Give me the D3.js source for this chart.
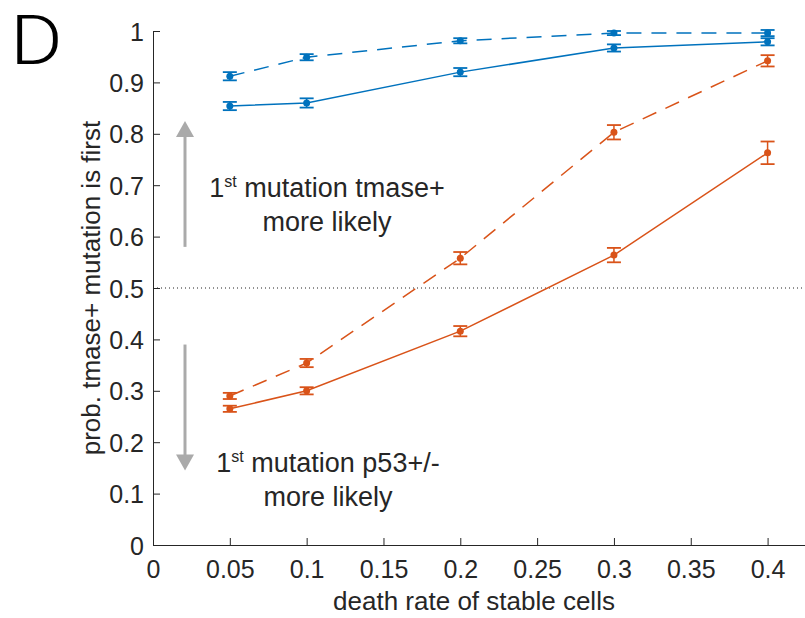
<!DOCTYPE html>
<html>
<head>
<meta charset="utf-8">
<script src="https://cdn.jsdelivr.net/npm/d3@7"></script>
<style>
  body { margin: 0; background: #fff; }
  svg text { font-family: "Liberation Sans", Arial, sans-serif; fill: #262626; }
</style>
</head>
<body>
<svg id="chart" width="805" height="618"></svg>
<script>
// datos
var deathRates = [0.05, 0.1, 0.2, 0.3, 0.4];
var xTicks = [0, 0.05, 0.1, 0.15, 0.2, 0.25, 0.3, 0.35, 0.4];
var yTicks = [0, 0.1, 0.2, 0.3, 0.4, 0.5, 0.6, 0.7, 0.8, 0.9, 1];

var blueDashed = [0.912, 0.949, 0.981, 0.996, 0.996];
var blueDashedErr = [0.008, 0.006, 0.005, 0.004, 0.006];
var blueSolid = [0.854, 0.860, 0.920, 0.967, 0.979];
var blueSolidErr = [0.008, 0.009, 0.008, 0.007, 0.007];
var orangeDashed = [0.290, 0.354, 0.558, 0.803, 0.942];
var orangeDashedErr = [0.006, 0.008, 0.012, 0.014, 0.011];
var orangeSolid = [0.265, 0.300, 0.416, 0.564, 0.763];
var orangeSolidErr = [0.006, 0.007, 0.010, 0.014, 0.022];

var series = [
  { vals: blueDashed, err: blueDashedErr, color: "#0072BD", dash: "15,10" },
  { vals: blueSolid, err: blueSolidErr, color: "#0072BD", dash: null },
  { vals: orangeDashed, err: orangeDashedErr, color: "#D95319", dash: "15,10" },
  { vals: orangeSolid, err: orangeSolidErr, color: "#D95319", dash: null }
];

var svg = d3.select("#chart");
var x = d3.scaleLinear().domain([0, 0.425]).range([153, 806]);
var y = d3.scaleLinear().domain([0, 1]).range([545, 31]);

// ejes
var xAxis = d3.axisBottom(x).tickValues(xTicks).tickSizeInner(-7).tickSizeOuter(0)
  .tickPadding(15).tickFormat(d3.format("~g"));
var gx = svg.append("g").attr("transform", "translate(0,545)").call(xAxis);
var yAxis = d3.axisLeft(y).tickValues(yTicks).tickSizeInner(-7).tickSizeOuter(0)
  .tickPadding(9).tickFormat(d3.format("~g"));
var gy = svg.append("g").attr("transform", "translate(153,0)").call(yAxis);
[gx, gy].forEach(function(g) {
  g.selectAll("path").attr("stroke", "#262626").attr("stroke-width", 1);
  g.selectAll("line").attr("stroke", "#262626");
  g.selectAll("text").attr("font-size", 25).attr("fill", "#262626")
    .style("font-family", "Liberation Sans, Arial, sans-serif");
});
gy.selectAll("text").attr("dy", "0.36em");

// linea punteada 0.5
svg.append("line")
  .attr("x1", x(0)).attr("x2", 805)
  .attr("y1", y(0.5)).attr("y2", y(0.5))
  .attr("stroke", "#222").attr("stroke-width", 1).attr("stroke-dasharray", "1,3");

// flechas grises
var arrowX = 185;
function arrow(fromV, toV) {
  var y0 = y(fromV), y1 = y(toV);
  var dir = y1 < y0 ? -1 : 1;
  svg.append("line").attr("x1", arrowX).attr("x2", arrowX)
    .attr("y1", y0).attr("y2", y1 - dir * 14)
    .attr("stroke", "#aaaaaa").attr("stroke-width", 3);
  svg.append("path")
    .attr("d", "M" + (arrowX - 9) + "," + (y1 - dir * 16) + " L" + (arrowX + 9) + "," + (y1 - dir * 16) + " L" + arrowX + "," + y1 + " Z")
    .attr("fill", "#aaaaaa");
}
arrow(0.58, 0.825);
arrow(0.39, 0.145);

// anotaciones
function note(cx, cy, l1, l2) {
  var t = svg.append("text").attr("x", cx).attr("y", cy).attr("text-anchor", "middle").attr("font-size", 27);
  t.append("tspan").text("1");
  t.append("tspan").attr("font-size", 16).attr("dy", -10).text("st");
  t.append("tspan").attr("dy", 10).text(" " + l1);
  svg.append("text").attr("x", cx).attr("y", cy + 34).attr("text-anchor", "middle")
    .attr("font-size", 27).text(l2);
}
note(327, 197, "mutation tmase+", "more likely");
note(328, 472, "mutation p53+/-", "more likely");

// series
var line = d3.line().x(function(d, i) { return x(deathRates[i]); }).y(function(d) { return y(d); });
series.forEach(function(s) {
  svg.append("path").datum(s.vals)
    .attr("fill", "none").attr("stroke", s.color).attr("stroke-width", 1.5)
    .attr("stroke-dasharray", s.dash).attr("d", line);
  var g = svg.append("g");
  s.vals.forEach(function(v, i) {
    var cx = x(deathRates[i]);
    var lo = y(v - s.err[i]), hi = y(v + s.err[i]);
    g.append("line").attr("x1", cx).attr("x2", cx).attr("y1", lo).attr("y2", hi)
      .attr("stroke", s.color).attr("stroke-width", 1.5);
    [lo, hi].forEach(function(yy) {
      g.append("line").attr("x1", cx - 7).attr("x2", cx + 7).attr("y1", yy).attr("y2", yy)
        .attr("stroke", s.color).attr("stroke-width", 1.8);
    });
    g.append("circle").attr("cx", cx).attr("cy", y(v)).attr("r", 3.5).attr("fill", s.color);
  });
});

// etiquetas
svg.append("text").attr("x", 474).attr("y", 610).attr("text-anchor", "middle")
  .attr("font-size", 26).text("death rate of stable cells");
svg.append("text").attr("transform", "translate(100," + y(0.5) + ") rotate(-90)")
  .attr("text-anchor", "middle").attr("font-size", 26).text("prob. tmase+ mutation is first");
svg.append("text").attr("transform", "translate(10,64) scale(1.22,1.04)").attr("font-size", 66)
  .style("font-family", "Roboto, sans-serif").attr("font-weight", 300).style("fill", "#000").text("D");
</script>
</body>
</html>
